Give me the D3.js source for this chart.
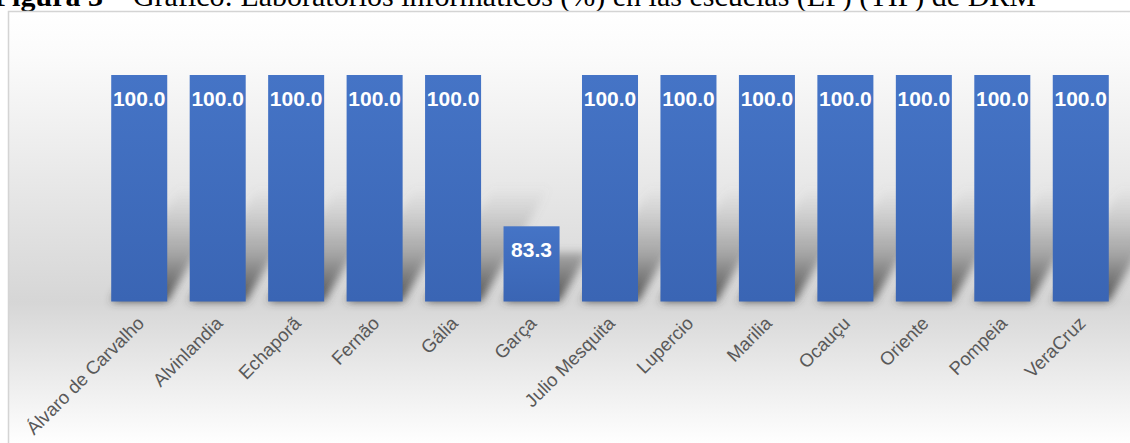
<!DOCTYPE html>
<html>
<head>
<meta charset="utf-8">
<script src="https://cdn.jsdelivr.net/npm/d3@7"></script>
<style>
html,body{margin:0;padding:0;background:#fff;overflow:hidden;}
svg{display:block;}
</style>
</head>
<body>
<svg id="chart" width="1130" height="443"></svg>
<script>
const categories = ["Álvaro de Carvalho","Alvinlandia","Echaporã","Fernão","Gália","Garça","Julio Mesquita","Lupercio","Marilia","Ocauçu","Oriente","Pompeia","VeraCruz"];
const values = [100.0,100.0,100.0,100.0,100.0,83.3,100.0,100.0,100.0,100.0,100.0,100.0,100.0];
const yDomain = [75, 100];
const titleBold = "Figura 3";
const titleRest = " – Gráfico: Laboratórios informáticos (%) en las escuelas (EF) (TIP) de DRM";

const svg = d3.select("#chart");
const W = 1130, H = 443;
const defs = svg.append("defs");

// background gradient
const bg = defs.append("linearGradient").attr("id","bgGrad")
  .attr("gradientUnits","userSpaceOnUse").attr("x1",0).attr("y1",11).attr("x2",0).attr("y2",445);
bg.append("stop").attr("offset","0%").attr("stop-color","#ffffff");
bg.append("stop").attr("offset","10%").attr("stop-color","#fbfbfb");
bg.append("stop").attr("offset","67%").attr("stop-color","#d6d6d6");
bg.append("stop").attr("offset","100%").attr("stop-color","#ffffff");

const barGrad = defs.append("linearGradient").attr("id","barGrad").attr("x1",0).attr("y1",0).attr("x2",0).attr("y2",1);
barGrad.append("stop").attr("offset","0%").attr("stop-color","#4574c6");
barGrad.append("stop").attr("offset","100%").attr("stop-color","#3a65b4");

const x = d3.scaleBand().domain(categories).range([100, 1120]).paddingInner(0.286).paddingOuter(0.143);
const y = d3.scaleLinear().domain(yDomain).range([301.5, 75]);
const base = y(yDomain[0]);

const shGrad = defs.append("linearGradient").attr("id","shGrad")
  .attr("gradientUnits","userSpaceOnUse").attr("x1",0).attr("y1",base).attr("x2",0).attr("y2",base-115);
shGrad.append("stop").attr("offset","0%").attr("stop-color","#3c3c3c").attr("stop-opacity",0.9);
shGrad.append("stop").attr("offset","40%").attr("stop-color","#5a5a5a").attr("stop-opacity",0.45);
shGrad.append("stop").attr("offset","100%").attr("stop-color","#888").attr("stop-opacity",0);
defs.append("filter").attr("id","blur").attr("x","-50%").attr("y","-50%").attr("width","200%").attr("height","200%")
  .append("feGaussianBlur").attr("stdDeviation",4);

// title (mostly clipped above the view)
const title = svg.append("text").attr("x",1036).attr("y",6).attr("text-anchor","end")
  .attr("font-family","'Liberation Serif','Times New Roman',serif").attr("font-size",30).attr("fill","#000");
title.append("tspan").attr("font-weight","bold").text(titleBold);
title.append("tspan").text(titleRest);

// chart area
svg.append("rect").attr("x",8.5).attr("y",11.5).attr("width",W).attr("height",H)
  .attr("fill","url(#bgGrad)").attr("stroke","#d4d4d4").attr("stroke-width",1.5);

// shadows
const data = categories.map((c,i)=>({c, v: values[i]}));
svg.append("g").attr("filter","url(#blur)").selectAll("path").data(data).join("path")
  .attr("fill","url(#shGrad)")
  .attr("d", d => {
    const x0 = x(d.c), x1 = x0 + x.bandwidth();
    const h = Math.min((base - y(d.v)) * 0.65, 115);
    const dx = h * 0.6;
    return `M${x0},${base}L${x1},${base}L${x1+dx},${base-h}L${x0+dx},${base-h}Z`;
  });

// bars
svg.append("g").selectAll("rect").data(data).join("rect")
  .attr("x", d => x(d.c)).attr("y", d => y(d.v))
  .attr("width", x.bandwidth()).attr("height", d => base - y(d.v))
  .attr("fill","url(#barGrad)");

// data labels
svg.append("g").selectAll("text").data(data).join("text")
  .attr("x", d => x(d.c) + x.bandwidth()/2).attr("y", d => y(d.v) + 31)
  .attr("text-anchor","middle")
  .attr("font-family","'Liberation Sans',Arial,sans-serif").attr("font-weight","bold")
  .attr("font-size",21).attr("fill","#ffffff")
  .text(d => d.v.toFixed(1));

// category labels
const xAxis = svg.append("g").attr("transform",`translate(0,${base})`)
  .call(d3.axisBottom(x).tickSize(0).tickPadding(0));
xAxis.select(".domain").remove();
xAxis.selectAll("text")
  .attr("font-family","'Liberation Sans',Arial,sans-serif").attr("font-size",18.5).attr("fill","#595959")
  .attr("text-anchor","end").attr("dy",null).attr("y",null)
  .attr("transform","translate(6,23) rotate(-45)");
</script>
</body>
</html>
